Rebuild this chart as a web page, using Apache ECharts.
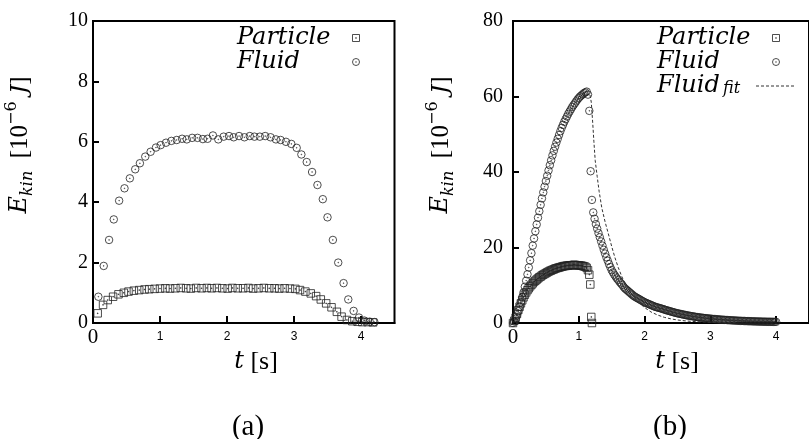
<!DOCTYPE html>
<html><head><meta charset="utf-8">
<script src="https://cdn.jsdelivr.net/npm/echarts@6/dist/echarts.min.js"></script>
<style>html,body{margin:0;padding:0;background:#fff}#c{width:809px;height:439px}</style>
</head><body><div id="c"></div>
<script>
// ---------- Panel (a) ----------
const leftParticleT = [0.07,0.15,0.22,0.30,0.38,0.46,0.53,0.61,0.69,0.77,0.84,0.92,1.00,1.08,1.15,1.23,1.31,1.39,1.46,1.54,1.62,1.70,1.77,1.85,1.93,2.01,2.08,2.16,2.24,2.32,2.39,2.47,2.55,2.63,2.71,2.78,2.86,2.94,3.02,3.09,3.17,3.25,3.33,3.40,3.48,3.56,3.64,3.71,3.79,3.87,3.95,4.02,4.10,4.18];
const leftParticleE = [0.32,0.60,0.76,0.87,0.95,1.00,1.04,1.07,1.09,1.11,1.12,1.13,1.14,1.15,1.14,1.15,1.16,1.15,1.14,1.16,1.15,1.16,1.15,1.16,1.15,1.14,1.16,1.15,1.15,1.16,1.14,1.15,1.16,1.15,1.15,1.14,1.15,1.14,1.13,1.09,1.04,0.98,0.89,0.78,0.65,0.52,0.37,0.21,0.10,0.06,0.04,0.03,0.03,0.02];
const leftFluidT = [0.08,0.16,0.24,0.31,0.39,0.47,0.55,0.63,0.70,0.78,0.86,0.94,1.01,1.09,1.17,1.25,1.33,1.40,1.48,1.56,1.64,1.71,1.79,1.87,1.95,2.03,2.10,2.18,2.26,2.34,2.41,2.49,2.57,2.65,2.73,2.80,2.88,2.96,3.04,3.11,3.19,3.27,3.35,3.43,3.50,3.58,3.66,3.74,3.81,3.89,3.97,4.05,4.13,4.20];
const leftFluidE = [0.87,1.89,2.75,3.43,4.05,4.46,4.79,5.09,5.29,5.51,5.67,5.81,5.89,5.97,6.03,6.06,6.10,6.08,6.13,6.13,6.09,6.10,6.21,6.08,6.17,6.19,6.15,6.19,6.15,6.19,6.17,6.17,6.19,6.15,6.08,6.06,6.00,5.93,5.80,5.58,5.33,5.00,4.57,4.10,3.50,2.75,2.00,1.32,0.78,0.40,0.18,0.08,0.04,0.03];

// ---------- Panel (b) ----------
const rightParticleT = [0.00,0.02,0.04,0.06,0.08,0.10,0.12,0.14,0.16,0.18,0.20,0.22,0.24,0.26,0.28,0.30,0.32,0.34,0.36,0.38,0.40,0.42,0.44,0.46,0.48,0.50,0.52,0.54,0.56,0.58,0.60,0.62,0.64,0.66,0.68,0.70,0.72,0.74,0.76,0.78,0.80,0.82,0.84,0.86,0.88,0.90,0.92,0.94,0.96,0.98,1.00,1.02,1.04,1.06,1.08,1.10,1.12,1.14,1.16,1.175,1.19,1.20];
const rightParticleE = [0.0,0.6,1.4,2.4,3.4,4.3,5.2,6.0,6.8,7.5,8.1,8.7,9.2,9.7,10.1,10.5,10.9,11.2,11.5,11.8,12.1,12.3,12.6,12.8,13.0,13.2,13.4,13.6,13.8,13.9,14.1,14.2,14.4,14.5,14.6,14.7,14.8,14.9,15.0,15.1,15.1,15.2,15.2,15.3,15.3,15.3,15.4,15.4,15.3,15.3,15.3,15.2,15.2,15.1,15.0,14.9,14.6,14.0,12.8,10.2,1.6,0.0];
const rightFluidT = [0.00,0.02,0.04,0.06,0.08,0.10,0.12,0.14,0.16,0.18,0.20,0.22,0.24,0.26,0.28,0.30,0.32,0.34,0.36,0.38,0.40,0.42,0.44,0.46,0.48,0.50,0.52,0.54,0.56,0.58,0.60,0.62,0.64,0.66,0.68,0.70,0.72,0.74,0.76,0.78,0.80,0.82,0.84,0.86,0.88,0.90,0.92,0.94,0.96,0.98,1.00,1.02,1.04,1.06,1.08,1.10,1.12,
  1.14,1.16,1.18,1.20,1.22,1.24,1.26,1.28,1.30,1.32,1.34,1.36,1.38,1.40,1.42,1.44,1.46,1.48,1.50,1.52,1.54,1.56,1.58,1.60,1.62,1.64,1.66,1.68,1.70,1.72,1.74,1.76,1.78,1.80,1.82,1.84,1.86,1.88,1.90,1.92,1.94,1.96,1.98,2.00,
  2.02,2.04,2.06,2.08,2.10,2.12,2.14,2.16,2.18,2.20,2.22,2.24,2.26,2.28,2.30,2.32,2.34,2.36,2.38,2.40,2.42,2.44,2.46,2.48,2.50,2.52,2.54,2.56,2.58,2.60,2.62,2.64,2.66,2.68,2.70,2.72,2.74,2.76,2.78,2.80,2.82,2.84,2.86,2.88,2.90,2.92,2.94,2.96,2.98,3.00,
  3.02,3.04,3.06,3.08,3.10,3.12,3.14,3.16,3.18,3.20,3.22,3.24,3.26,3.28,3.30,3.32,3.34,3.36,3.38,3.40,3.42,3.44,3.46,3.48,3.50,3.52,3.54,3.56,3.58,3.60,3.62,3.64,3.66,3.68,3.70,3.72,3.74,3.76,3.78,3.80,3.82,3.84,3.86,3.88,3.90,3.92,3.94,3.96,3.98,4.00];
const rightFluidE = [0.0,0.4,1.1,2.0,3.1,4.3,5.5,6.8,8.1,9.6,11.2,12.9,14.7,16.6,18.5,20.5,22.4,24.3,26.1,27.9,29.6,31.3,33.0,34.6,36.1,37.6,39.0,40.4,41.8,43.1,44.4,45.6,46.7,47.8,48.8,49.8,50.8,51.7,52.5,53.3,54.0,54.7,55.4,56.0,56.6,57.2,57.7,58.2,58.7,59.2,59.6,60.0,60.3,60.6,60.9,61.1,61.3,
  60.5,56.2,40.2,32.6,29.3,27.6,26.2,25.0,23.8,22.7,21.6,20.5,19.4,18.4,17.4,16.5,15.6,14.8,14.0,13.4,12.8,12.3,11.8,11.4,10.9,10.5,10.1,9.6,9.2,8.9,8.6,8.3,8.0,7.7,7.4,7.1,6.9,6.7,6.5,6.3,6.1,5.9,5.7,5.5,
  5.35,5.2,5.05,4.9,4.75,4.6,4.45,4.3,4.2,4.1,4.0,3.9,3.8,3.7,3.57,3.45,3.35,3.25,3.15,3.05,2.95,2.85,2.75,2.65,2.57,2.5,2.42,2.35,2.27,2.2,2.12,2.05,1.98,1.92,1.86,1.8,1.74,1.68,1.62,1.57,1.52,1.47,1.42,1.38,1.34,1.3,1.26,1.22,1.18,1.15,
  1.11,1.08,1.05,1.02,0.99,0.96,0.93,0.9,0.87,0.85,0.82,0.8,0.77,0.75,0.73,0.71,0.69,0.67,0.65,0.63,0.61,0.59,0.57,0.56,0.54,0.53,0.51,0.5,0.48,0.47,0.46,0.45,0.43,0.42,0.41,0.4,0.39,0.38,0.37,0.36,0.35,0.34,0.335,0.33,0.325,0.32,0.315,0.31,0.305,0.3];
const rightFitT = [1.17,1.19,1.21,1.23,1.25,1.28,1.31,1.35,1.40,1.45,1.50,1.55,1.60,1.65,1.70,1.80,1.90,2.00,2.10,2.20,2.30,2.40,2.50,2.60,2.70,2.80,3.00,3.20,3.40];
const rightFitE = [60.4,58.5,53.5,48.0,43.0,38.8,34.8,30.5,26.8,23.6,20.3,17.3,14.7,12.5,10.5,7.8,5.6,4.1,2.9,2.1,1.5,1.1,0.8,0.6,0.45,0.34,0.2,0.12,0.07];

const xTicksInterval = 1;
const leftYInterval = 2, rightYInterval = 20;

function pairs(t, e) { return t.map((v, i) => [v, e[i]]); }

const circleSym = 'path://M10,0A10,10,0,1,1,10,20A10,10,0,1,1,10,0ZM10,9.1A0.9,0.9,0,1,1,10,10.9A0.9,0.9,0,1,1,10,9.1Z';
const squareSym = 'path://M0,0L20,0L20,20L0,20ZM9.1,9.1L10.9,9.1L10.9,10.9L9.1,10.9Z';
const MK = '#222';
const serif = 'Liberation Serif';
const iserif = 'DejaVu Serif';

function scatter(name, gi, t, e, sym, size) {
  return {type:'scatter', name, xAxisIndex:gi, yAxisIndex:gi, data:pairs(t,e), symbol:sym, symbolSize:size,
    itemStyle:{color:'rgba(0,0,0,0)', borderColor:MK, borderWidth:1}, silent:true, emphasis:{disabled:true}};
}

function xAxis(gi) {
  return {gridIndex:gi, type:'value', min:0, max:4.5, interval:xTicksInterval,
    axisLine:{show:true, onZero:false, lineStyle:{color:'#000', width:2}},
    axisTick:{show:true, inside:true, length:7, lineStyle:{color:'#000', width:2}},
    splitLine:{show:false},
    axisLabel:{margin:3, showMaxLabel:false, color:'#000',
      formatter: v => v === 0 ? '{b|0}' : (Number.isInteger(v) ? '{s|' + v + '}' : ''),
      rich:{ b:{fontFamily:serif, fontSize:21, lineHeight:22, color:'#000'},
             s:{fontFamily:'Liberation Sans', fontSize:12, lineHeight:12, padding:[10,0,0,0], color:'#000'} }}};
}
function yAxis(gi, max, interval, margin) {
  return {gridIndex:gi, type:'value', min:0, max, interval,
    axisLine:{show:true, onZero:false, lineStyle:{color:'#000', width:2}},
    axisTick:{show:true, inside:true, length:6, lineStyle:{color:'#000', width:2}},
    splitLine:{show:false},
    axisLabel:{margin, fontFamily:serif, fontSize:20, color:'#000'}};
}

const legendRich = {
  n:{fontFamily:iserif, fontStyle:'italic', fontSize:24, lineHeight:22, width:94, align:'left', color:'#000'},
  f:{fontFamily:iserif, fontStyle:'italic', fontSize:24, lineHeight:22, width:66, align:'left', color:'#000'},
  s:{fontFamily:iserif, fontStyle:'italic', fontSize:16, lineHeight:14, width:28, align:'left', verticalAlign:'bottom', color:'#000'}
};
function legend(left, data) {
  return {left, top:26, orient:'vertical', align:'right', itemWidth:40, itemHeight:7, itemGap:0, padding:0,
    selectedMode:false, data,
    formatter: name => name === 'Fluid_fit' ? '{f|Fluid}{s|fit}' : '{n|' + name + '}',
    textStyle:{rich:legendRich}, itemStyle:{borderWidth:1}, lineStyle:{width:1}};
}

const yRich = {
  e:{fontFamily:iserif, fontStyle:'italic', fontSize:24, lineHeight:32, color:'#000'},
  sub:{fontFamily:iserif, fontStyle:'italic', fontSize:16, lineHeight:18, verticalAlign:'bottom', color:'#000'},
  r:{fontFamily:serif, fontSize:25, lineHeight:32, color:'#000'},
  sup:{fontFamily:iserif, fontSize:16, lineHeight:18, verticalAlign:'top', color:'#000'},
  j:{fontFamily:iserif, fontStyle:'italic', fontSize:23, lineHeight:32, color:'#000'}
};
const yLabelText = '{e|E}{sub|kin}{r|  [10}{sup|−6}{j| J}{r|]}';
const xRich = {
  i:{fontFamily:iserif, fontStyle:'italic', fontSize:24, color:'#000'},
  r:{fontFamily:serif, fontSize:26, color:'#000'}
};
function txt(x, y, text, rich, rot) {
  return {type:'text', x, y, rotation:rot || 0, silent:true,
    style:{text, rich, align:'center', verticalAlign:'middle', fill:'#000'}};
}

const chart = echarts.init(document.getElementById('c'), null, {renderer:'canvas'});
chart.setOption({
  animation:false,
  backgroundColor:'#fff',
  grid:[
    {left:93, top:21, width:301.5, height:302, show:true, borderColor:'#000', borderWidth:2, backgroundColor:'transparent'},
    {left:513, top:21, width:301.5, height:302, show:true, borderColor:'#000', borderWidth:2, backgroundColor:'transparent'}
  ],
  xAxis:[xAxis(0), xAxis(1)],
  yAxis:[yAxis(0, 10, leftYInterval, 5), yAxis(1, 80, rightYInterval, 10)],
  legend:[
    legend(237, ['Particle','Fluid']),
    legend(657, ['Particle','Fluid',{name:'Fluid_fit', itemStyle:{color:'rgba(0,0,0,0)', borderColor:'rgba(0,0,0,0)'}}])
  ],
  series:[
    scatter('Particle', 0, leftParticleT, leftParticleE, squareSym, 7.5),
    scatter('Fluid', 0, leftFluidT, leftFluidE, circleSym, 7.5),
    scatter('Particle', 1, rightParticleT, rightParticleE, squareSym, 7.5),
    scatter('Fluid', 1, rightFluidT, rightFluidE, circleSym, 7.5),
    {type:'line', name:'Fluid_fit', xAxisIndex:1, yAxisIndex:1, data:pairs(rightFitT, rightFitE), symbol:'none',
     smooth:false, silent:true, itemStyle:{color:'rgba(0,0,0,0)', borderColor:'rgba(0,0,0,0)'},
     lineStyle:{color:'#333', width:1, type:[3,2]}}
  ],
  graphic:[
    txt(20, 145, yLabelText, yRich, Math.PI/2),
    txt(441, 145, yLabelText, yRich, Math.PI/2),
    txt(256, 362, '{i|t}  {r|[s]}', xRich),
    txt(677, 362, '{i|t}  {r|[s]}', xRich),
    {type:'text', x:248, y:427, silent:true, style:{text:'(a)', font:'29px "Liberation Serif"', align:'center', verticalAlign:'middle', fill:'#000'}},
    {type:'text', x:670, y:427, silent:true, style:{text:'(b)', font:'29px "Liberation Serif"', align:'center', verticalAlign:'middle', fill:'#000'}}
  ]
});
</script></body></html>
